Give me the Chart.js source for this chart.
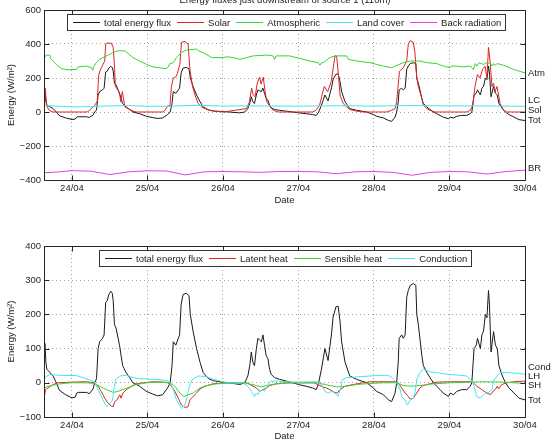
<!DOCTYPE html>
<html>
<head>
<meta charset="utf-8">
<script src="https://cdn.jsdelivr.net/npm/chart.js@4"></script>
<style>
  html, body { margin: 0; padding: 0; background: #fff; }
  canvas { display: block; }
</style>
</head>
<body>
<canvas id="fluxTop" width="557" height="222"></canvas>
<canvas id="fluxBottom" width="557" height="223"></canvas>
<script>
const FONT = '"Liberation Sans", Arial, Helvetica, sans-serif';

// time axis: hours after 24/04 00:00
const dayTicks = [0, 24, 48, 72, 96, 120, 144];
const dayLabels = ['24/04', '25/04', '26/04', '27/04', '28/04', '29/04', '30/04'];
const topYTicks = [-400, -200, 0, 200, 400, 600];
const bottomYTicks = [-100, 0, 100, 200, 300, 400];

// [hour, W/m2]
const totalFlux = [[-9,50],[-8.6,115],[-8.3,60],[-8,40],[-7.5,35],[-6,20],[-5,0],[-4,-22],[-2,-35],[0,-44],[1,-42],[1.5,-30],[2,-28],[4.6,-28],[5.5,-32],[6.7,-18],[7.2,0],[7.8,12],[8.3,100],[8.8,120],[9.7,130],[10.2,140],[10.7,235],[11.2,240],[11.7,258],[12.3,268],[12.8,262],[13.1,240],[13.5,170],[14,160],[15.1,110],[15.6,80],[16.1,50],[17.2,30],[18.3,15],[19.4,0],[21.5,-10],[23.6,-25],[25.7,-33],[27.2,-38],[28.8,-35],[30.4,-15],[31.2,0],[31.8,50],[32.2,120],[33,110],[34.2,140],[34.7,230],[35.3,258],[36.3,262],[37.2,255],[37.6,200],[38.5,150],[39.6,100],[40.7,60],[41.7,30],[43.4,12],[45,6],[48,2],[50,0],[53.3,-5],[54.9,0],[55.9,20],[56.5,50],[57,90],[57.5,60],[58,50],[58.6,100],[59.1,130],[59.6,125],[60.2,120],[60.7,140],[61.2,110],[61.7,80],[62.3,70],[62.8,40],[63.3,25],[64.4,15],[66,10],[68.1,5],[70.2,0],[72,-5],[74.4,-10],[76.5,-15],[77.6,-20],[78.3,-5],[79.3,40],[80.4,100],[81.4,65],[82.5,143],[83,192],[83.9,222],[84.6,224],[85.2,180],[85.7,120],[86.8,60],[88.3,20],[90.5,10],[93.7,0],[95.8,-15],[96.8,-25],[99,-35],[100.6,-50],[101.6,-55],[102.7,-30],[103.2,0],[103.7,60],[104,130],[104.8,140],[105.3,130],[105.9,140],[106.4,250],[106.9,270],[107.5,285],[108.5,290],[109.3,285],[109.6,200],[110.1,170],[110.6,130],[111.2,80],[111.7,50],[112.8,30],[113.8,15],[114.9,0],[115.9,-10],[117,-20],[118,-30],[119.7,-40],[120.2,-30],[121.3,-35],[122.3,-25],[123.9,-20],[125.5,-20],[126.6,-10],[127.1,0],[127.8,100],[128.5,110],[128.9,130],[129.8,100],[130.3,140],[130.8,150],[131.4,200],[131.9,190],[132.4,270],[132.7,230],[133.2,90],[134,150],[134.6,110],[135.2,100],[135.7,50],[136.8,20],[137.8,0],[138.9,-15],[140.5,-30],[142.1,-45],[144,-50]];

const solar = [[-9,135],[-8.7,60],[-8.5,140],[-8.2,70],[-7.9,30],[-7.1,8],[-6,0],[4.8,0],[5.6,10],[7.2,40],[8,60],[8.5,220],[9.3,260],[10.4,300],[10.7,400],[11.1,405],[12.5,405],[13.1,380],[13.4,300],[13.8,150],[14.6,130],[15.2,100],[15.5,60],[16,120],[16.8,30],[18.4,15],[19.4,5],[20.5,0],[29,0],[29.5,10],[30.6,40],[31.1,30],[31.6,150],[32.2,200],[33.2,210],[34.3,280],[34.8,410],[35.9,415],[36.9,400],[37.5,250],[38.3,150],[39.1,100],[40.1,50],[41.2,30],[42.8,15],[44.9,5],[48,0],[55.5,20],[56.4,60],[57.1,140],[57.6,100],[58.2,90],[58.9,170],[59.6,205],[60.1,165],[60.8,205],[61.4,120],[61.9,60],[63,30],[64,10],[65.6,0],[76.5,0],[77.6,10],[78.7,40],[79.5,100],[80.2,150],[81.3,120],[82.4,180],[83.6,330],[84.1,330],[84.6,240],[85.2,100],[86.2,50],[87.3,30],[88.3,15],[90.5,5],[92.6,0],[100,0],[101.6,10],[102.7,20],[103.2,60],[104.1,240],[105.3,260],[106.4,300],[106.9,400],[107.5,420],[108.5,410],[109,350],[109.6,200],[110.1,150],[111.2,80],[111.7,40],[112.8,20],[113.8,10],[115.4,0],[125.5,0],[126.6,10],[127.4,40],[128.1,150],[128.9,220],[129.7,200],[130.5,250],[131.3,270],[131.9,200],[132.4,380],[132.9,300],[133.5,150],[134,170],[134.5,120],[135.1,150],[135.6,100],[136.1,50],[137.2,10],[138.2,0],[144,0]];

const atmospheric = [[-9,312],[-8.2,335],[-7.1,335],[-6.6,310],[-5,280],[-3.4,255],[-1.3,248],[1.4,250],[1.9,265],[4.6,270],[6.2,260],[6.6,245],[6.9,270],[7.2,275],[7.7,290],[8.8,310],[10.9,330],[13.1,350],[14.6,360],[16.8,360],[17.8,345],[19.4,320],[21.5,300],[23.7,280],[25.8,265],[27.9,260],[30,255],[30.6,265],[31.1,285],[32.2,290],[33.2,320],[34.8,350],[36.4,365],[39.6,370],[40.7,355],[41.7,350],[44.4,320],[48.1,320],[49.2,325],[51.3,320],[53.4,310],[55.5,320],[57.6,330],[61.9,335],[63.9,330],[64.4,310],[64.9,330],[69.2,330],[72.4,315],[75.6,300],[78.3,290],[78.8,275],[79.3,290],[79.9,290],[80.9,305],[82,320],[83.6,330],[87.3,330],[87.8,310],[90.5,300],[94.7,290],[99,270],[101.6,260],[102.7,270],[105.3,290],[107.5,300],[110.6,300],[112.8,290],[115.9,285],[118.1,270],[120.2,260],[120.7,270],[122.3,270],[124.4,265],[126.6,270],[127.6,250],[128.2,285],[128.7,270],[129.4,290],[130.8,280],[131.9,290],[133,285],[133.6,270],[134,285],[134.5,275],[135.2,285],[137.2,275],[140.4,250],[144,230]];

const landCover = [[-9,38],[0,30],[6,32],[12,36],[18,38],[24,34],[30,33],[36,38],[42,38],[48,35],[60,36],[72,34],[84,37],[96,35],[108,38],[120,36],[132,36],[144,33]];

const backRadiation = [[-9,-358],[-4,-352],[0,-345],[6,-348],[12,-368],[18,-352],[24,-346],[30,-347],[36,-370],[42,-352],[48,-350],[54,-352],[60,-355],[66,-350],[72,-350],[78,-352],[84,-363],[90,-352],[96,-350],[102,-355],[108,-372],[114,-355],[120,-350],[126,-352],[132,-365],[138,-350],[144,-342]];

const latentHeat = [[-9,-25],[-8.7,-35],[-8.4,-20],[-7.6,-15],[-6,-5],[-4.5,0],[0,2],[4.6,3],[7.2,0],[8.3,-10],[9.3,-25],[10.4,-45],[11.5,-60],[12.5,-68],[13.1,-70],[13.6,-55],[14.3,-50],[15.2,-35],[15.6,-45],[16.2,-30],[17.3,-20],[18.9,-10],[20.5,-3],[22.6,0],[25.8,3],[29,2],[30.6,0],[31.6,-10],[32.7,-25],[33.8,-45],[34.8,-65],[35.9,-72],[36.9,-70],[37.5,-50],[38.5,-40],[39.6,-30],[40.7,-18],[42.3,-10],[44.9,-3],[48.1,0],[55.5,0],[56.5,-5],[58.6,-15],[59.6,-25],[60.7,-20],[61.8,-15],[62.8,-8],[65,-3],[68,0],[77,0],[78.1,-5],[79.7,-12],[80.8,-15],[82.4,-22],[83.4,-28],[84.3,-30],[85.2,-20],[86.8,-10],[89.4,-5],[92.6,0],[94.7,3],[103.2,3],[103.7,0],[104.8,-15],[105.9,-30],[106.9,-40],[107.5,-48],[108.5,-45],[109.6,-30],[110.6,-15],[111.7,-8],[113.8,-3],[115.9,2],[120.2,3],[126.6,3],[127.6,0],[128.7,-10],[130.3,-20],[131.9,-30],[133,-35],[133.8,-25],[134.5,-20],[135.2,-10],[135.6,-18],[136.6,-5],[138.2,0],[140.4,3],[144,5]];

const sensibleHeat = [[-9,-15],[-7.6,-10],[-5,-5],[-2.9,-2],[0,0],[4.6,0],[7.2,-2],[8.8,-10],[10.9,-20],[13.1,-28],[14.6,-25],[16.2,-20],[18.4,-12],[20.5,-5],[23.7,0],[26.9,2],[31.1,0],[32.7,-10],[34.3,-30],[35.6,-40],[36.9,-35],[38.5,-30],[40.7,-15],[42.8,-8],[46,-3],[49.2,-2],[55,0],[58.6,-8],[60.2,-12],[61.8,-8],[65,-3],[70,0],[78,0],[80.4,-5],[84.1,-12],[87.3,-10],[90.5,-5],[94.7,-2],[99,0],[103.2,0],[105.3,-8],[107.5,-10],[110.6,-8],[114.9,-3],[120.2,0],[126.6,2],[130.8,3],[137.2,2],[144,-2]];

const conduction = [[-9,12],[-7.2,24],[-4,22],[1.4,21],[3.5,15],[5.6,8],[6.6,5],[7.4,0],[8.3,-20],[9.3,-40],[10.7,-65],[11.1,-70],[12,-60],[12.9,-50],[13.3,-20],[13.9,10],[15.2,20],[17.3,22],[19.4,15],[21.5,12],[25.8,10],[29,8],[30.6,5],[31.3,0],[32.2,-20],[33.2,-50],[34.8,-75],[35.9,-65],[36.6,-40],[37.3,-10],[38.3,10],[40.1,20],[42.8,18],[44.9,10],[47,5],[49.2,0],[54.3,0],[55.9,-10],[57,-25],[58,-40],[58.6,-30],[59.1,-35],[59.6,-25],[60.7,-20],[61.2,-25],[62.3,-5],[63.3,5],[64.9,5],[68.1,3],[72,2],[77.7,3],[79.3,-5],[80.4,-25],[81.4,-30],[82.5,-25],[83.6,-30],[84.6,-40],[85.4,-15],[86,10],[87.3,15],[90.5,17],[94.7,20],[99,22],[101.1,20],[102.2,10],[103.2,0],[104.3,-20],[104.8,-40],[105.9,-50],[106.6,-65],[107.5,-50],[108.5,-45],[109,-30],[109.6,10],[110.6,30],[111.7,40],[113.8,32],[115.9,30],[119.1,25],[122.3,23],[125.5,20],[127.1,5],[127.8,-10],[128.7,-40],[129.8,-45],[130.8,-35],[131.9,-30],[133,-25],[133.5,-20],[134,5],[135.1,20],[136.1,30],[138.2,30],[141.4,28],[144,25]];

// labels at the right of each panel, at these values
const topTags = ['Atm', 'LC', 'Sol', 'Tot', 'BR'];
const topTagValues = [229, 71, 12, -47, -329];
const bottomTags = ['Cond', 'LH', 'SH', 'Tot'];
const bottomTagValues = [44, 18, -8.5, -50];

function toPoints(list) {
  return list.map(p => ({ x: p[0], y: p[1] }));
}

function line(label, list, color, order) {
  return {
    label,
    data: toPoints(list),
    borderColor: color,
    backgroundColor: color,
    borderWidth: 1,
    pointRadius: 0,
    fill: false,
    tension: 0,
    order
  };
}

function minus(v) {
  return String(v).replace('-', '\u2212');
}

const framePlugin = {
  id: 'frame',
  afterDatasetsDraw(chart) {
    const { ctx, chartArea: a, scales: { x, y } } = chart;
    const L = Math.round(a.left) + 0.5, R = Math.round(a.right) + 0.5;
    const T = Math.round(a.top) + 0.5, B = Math.round(a.bottom) + 0.5;
    ctx.save();
    ctx.strokeStyle = '#262626';
    ctx.lineWidth = 1;
    ctx.beginPath();
    x.ticks.forEach(t => {
      const px = Math.round(x.getPixelForValue(t.value)) + 0.5;
      ctx.moveTo(px, B); ctx.lineTo(px, B - 5);
      ctx.moveTo(px, T); ctx.lineTo(px, T + 5);
    });
    y.ticks.forEach(t => {
      const py = Math.round(y.getPixelForValue(t.value)) + 0.5;
      ctx.moveTo(L, py); ctx.lineTo(L + 5, py);
      ctx.moveTo(R, py); ctx.lineTo(R - 5, py);
    });
    ctx.rect(L, T, R - L, B - T);
    ctx.stroke();
    ctx.restore();
  }
};

const boxLegendPlugin = {
  id: 'boxLegend',
  afterDraw(chart, args, opts) {
    const { ctx, chartArea: a } = chart;
    const items = chart.data.datasets.map((d, i) => ({
      text: d.label,
      color: opts.colors[i]
    }));
    const sample = 27, gap = 4, between = 6, padL = 6, padR = 3.5, h = 16;
    ctx.save();
    ctx.font = '9.5px ' + FONT;
    let w = padL + padR;
    items.forEach((it, i) => {
      w += sample + gap + ctx.measureText(it.text).width + (i < items.length - 1 ? between : 0);
    });
    const left = Math.round(a.left + opts.dx);
    const top = Math.round(a.top + opts.dy);
    ctx.fillStyle = '#fff';
    ctx.fillRect(left, top, w, h);
    ctx.strokeStyle = '#333';
    ctx.lineWidth = 1;
    ctx.strokeRect(left + 0.5, top + 0.5, Math.round(w), h);
    const cy = top + h / 2;
    let cx = left + padL;
    ctx.textBaseline = 'middle';
    items.forEach(it => {
      ctx.fillStyle = it.color;
      ctx.fillRect(Math.round(cx), Math.round(cy), sample, 1);
      cx += sample + gap;
      ctx.fillStyle = '#222';
      ctx.fillText(it.text, cx, cy + 1);
      cx += ctx.measureText(it.text).width + between;
    });
    ctx.restore();
  }
};

const sideTagsPlugin = {
  id: 'sideTags',
  afterDraw(chart, args, opts) {
    const { ctx, chartArea: a, scales: { y } } = chart;
    ctx.save();
    ctx.font = '9.5px ' + FONT;
    ctx.fillStyle = '#222';
    ctx.textBaseline = 'middle';
    opts.names.forEach((n, i) => {
      ctx.fillText(n, a.right + 3, y.getPixelForValue(opts.values[i]));
    });
    ctx.restore();
  }
};

const clippedTitlePlugin = {
  id: 'clippedTitle',
  afterDraw(chart, args, opts) {
    if (!opts.text) return;
    const ctx = chart.ctx;
    ctx.save();
    ctx.font = '9.5px ' + FONT;
    ctx.fillStyle = '#222';
    ctx.textAlign = 'center';
    ctx.textBaseline = 'alphabetic';
    ctx.fillText(opts.text, opts.x, opts.y);
    ctx.restore();
  }
};

function makeChart(id, datasets, yTicks, cfg) {
  const ctx = document.getElementById(id).getContext('2d');
  return new Chart(ctx, {
    type: 'line',
    data: { datasets },
    options: {
      responsive: false,
      animation: false,
      events: [],
      layout: { padding: { left: 0, right: 32, top: cfg.padTop, bottom: 0 } },
      scales: {
        x: {
          type: 'linear',
          min: -8.9,
          max: 144,
          afterBuildTicks: s => { s.ticks = dayTicks.map(v => ({ value: v })); },
          afterFit: s => { s.height = cfg.xHeight; },
          ticks: {
            padding: 3,
            maxRotation: 0,
            autoSkip: false,
            color: '#262626',
            font: { family: FONT, size: 9.5 },
            callback: v => dayLabels[dayTicks.indexOf(v)]
          },
          grid: { color: '#a0a0a0', lineWidth: 1, drawTicks: false },
          border: { display: false, dash: [1, 3] },
          title: {
            display: true,
            text: 'Date',
            color: '#222',
            font: { family: FONT, size: 9.5 },
            padding: { top: 0, bottom: cfg.datePad }
          }
        },
        y: {
          min: yTicks[0],
          max: yTicks[yTicks.length - 1],
          afterBuildTicks: s => { s.ticks = yTicks.map(v => ({ value: v })); },
          afterFit: s => { s.width = 44; },
          ticks: {
            padding: 3,
            color: '#262626',
            font: { family: FONT, size: 9.5 },
            callback: v => minus(v)
          },
          grid: { color: '#a0a0a0', lineWidth: 1, drawTicks: false },
          border: { display: false, dash: [1, 3] },
          title: {
            display: true,
            text: 'Energy (W/m\u00B2)',
            color: '#222',
            font: { family: FONT, size: 9.5 },
            padding: { top: 6, bottom: 0 }
          }
        }
      },
      plugins: {
        legend: { display: false },
        tooltip: { enabled: false },
        boxLegend: { dx: cfg.legendDx, dy: 4, colors: datasets.map(d => d.borderColor) },
        sideTags: { names: cfg.tags, values: cfg.tagValues },
        clippedTitle: { text: cfg.title, x: 285, y: 2.5 }
      }
    },
    plugins: [framePlugin, boxLegendPlugin, sideTagsPlugin, clippedTitlePlugin]
  });
}

makeChart('fluxTop', [
  line('total energy flux', totalFlux, '#1a1a1a', 5),
  line('Solar', solar, '#e02424', 4),
  line('Atmospheric', atmospheric, '#33d633', 3),
  line('Land cover', landCover, '#44e6ea', 2),
  line('Back radiation', backRadiation, '#e040e0', 1)
], topYTicks, {
  padTop: 10, xHeight: 42, datePad: 16.3, legendDx: 23,
  tags: topTags, tagValues: topTagValues,
  title: 'Energy fluxes just downstream of source 1 (110m)'
});

makeChart('fluxBottom', [
  line('total energy flux', totalFlux, '#1a1a1a', 4),
  line('Latent heat', latentHeat, '#e02424', 3),
  line('Sensible heat', sensibleHeat, '#33d633', 2),
  line('Conduction', conduction, '#44e6ea', 1)
], bottomYTicks, {
  padTop: 24, xHeight: 28, datePad: 3.3, legendDx: 55,
  tags: bottomTags, tagValues: bottomTagValues,
  title: ''
});
</script>
</body>
</html>
